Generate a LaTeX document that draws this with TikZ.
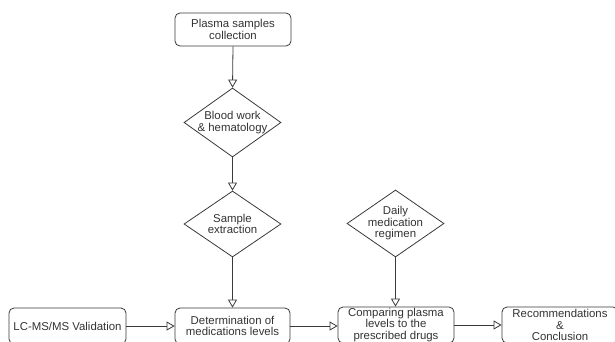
\documentclass[tikz,border=0pt]{standalone}
\usepackage{fontspec}
\setmainfont{Liberation Sans}
\usetikzlibrary{arrows.meta,shapes.geometric}
\definecolor{ln}{HTML}{3A3A3A}
\definecolor{tx}{HTML}{333333}
\tikzset{
  box/.style={draw=ln, line width=0.8pt, rounded corners=5pt, fill=white,
    minimum width=116pt, minimum height=36pt, inner sep=0pt},
  dia/.style={draw=ln, line width=0.8pt, diamond, fill=white, inner sep=0pt,
    minimum width=97pt, minimum height=67pt},
  txt/.style={text=tx, align=center, inner sep=0pt,
    font=\fontsize{11.4}{11.5}\selectfont},
  arr/.style={draw=ln, line width=0.8pt,
    -{Triangle[open,length=8pt,width=9pt,line width=0.8pt]}}
}
\begin{document}
\begin{tikzpicture}[x=1pt,y=-1pt]
\useasboundingbox (0,0) rectangle (615,341);
\clip (0,0) rectangle (615,341);
\fill[white] (0,0) rectangle (615,341);

\node[box, minimum height=33pt, label={[txt]center:Plasma samples\\collection}] (plasma) at (233,29.5) {};
\node[dia, minimum height=69pt, label={[txt]center:Blood work\\\& hematology}] (blood) at (232.5,122.5) {};
\node[dia, minimum height=66pt, label={[txt]center:Sample\\extraction}] (sample) at (232.5,224) {};
\node[dia, label={[txt]center:Daily\\medication\\regimen}] (daily) at (395.5,223.5) {};

\node[box, minimum width=117pt, label={[txt]center:LC-MS/MS Validation}] (lcms) at (67.5,326) {};
\node[box, minimum width=115pt, label={[txt]center:Determination of\\medications levels}] (det) at (232.5,326) {};
\node[box, label={[txt]center:Comparing plasma\\levels to the\\prescribed drugs}] (comp) at (396,325) {};
\node[box, label={[txt]center:Recommendations\\\&\\Conclusion}] (rec) at (560,325) {};

\draw[arr] (plasma.south) -- (blood.north);
\draw[arr] (blood.south) -- (sample.north);
\draw[arr] (sample.south) -- (det.north);
\draw[arr] (daily.south) -- (daily.south |- comp.north);
\draw[arr] (lcms.east) -- (det.west);
\draw[arr] (det.east) -- (det.east -| comp.west);
\draw[arr] (comp.east) -- (comp.east -| rec.west);
\end{tikzpicture}
\end{document}
